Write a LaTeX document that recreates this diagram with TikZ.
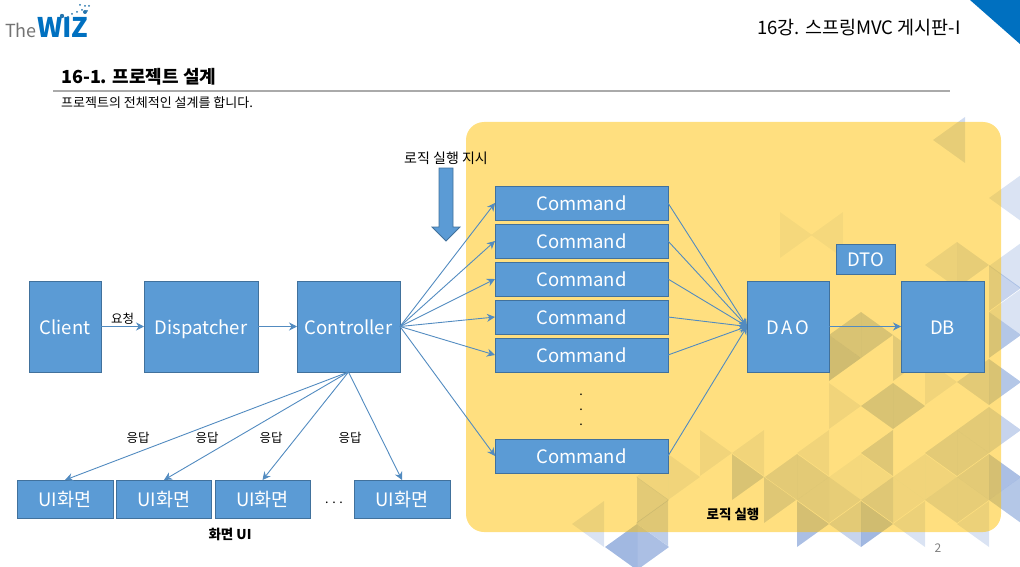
\documentclass[tikz,border=0pt]{standalone}
\usepackage{fontspec}
\setmainfont{Noto Sans CJK KR}
\usepackage{xcolor}
\usetikzlibrary{arrows.meta, positioning}
\definecolor{boxblue}{RGB}{91,155,213}
\definecolor{boxedge}{RGB}{65,113,156}
\definecolor{wizblue}{RGB}{0,112,192}
\definecolor{trianglue}{RGB}{68,114,196}
\definecolor{logicyellow}{RGB}{255,192,0}
\definecolor{rulegray}{RGB}{170,170,170}
\newcommand{\fsize}[1]{\fontsize{#1}{#1}\selectfont}

\begin{document}
\begin{tikzpicture}[
  x=1pt, y=-1pt,
  box/.style={draw=boxedge, line width=1pt, fill=boxblue, text=white, outer sep=0pt,
              inner sep=0pt, font=\fsize{18.5}, minimum height=91pt,
              text height=15pt, text depth=0pt},
  cmd/.style={box, minimum width=173pt, minimum height=34pt},
  uibox/.style={box, minimum width=96pt, minimum height=38pt},
  arrow/.style={-{Stealth[length=8pt,width=8pt]}, line width=0.9pt, boxblue!90!black},
  plain/.style={font=\fsize{12.5}, text=black, inner sep=0pt},
  strong/.style={font=\fsize{13.5}\bfseries, text=black, inner sep=0pt},
]

\useasboundingbox (0,0) rectangle (1020,567);

\foreach \bx/\my/\dir/\op in {965/140/-1/.25, 1021/198/-1/.2, 780/235/1/.1, 843/235/-1/.1,
    957/265/-1/.2, 957/265/1/.25, 1021/266/-1/.2, 989/288/1/.3, 1021/312/-1/.2, 989/335/1/.4,
    989/382/1/.4, 989/382/-1/.3, 989/430/1/.3, 989/477/1/.45, 1021/500/-1/.4,
    797/524/1/.45, 861/524/-1/.3, 861/524/1/.5, 925/524/-1/.2, 989/524/-1/.2,
    732/477/1/.4, 700/453/1/.15, 764/453/-1/.15, 797/477/-1/.3, 764/500/1/.35,
    829/453/-1/.15, 797/477/1/.3, 829/500/-1/.3, 829/500/1/.25, 861/477/1/.1, 861/477/-1/.1,
    893/453/-1/.35, 925/477/-1/.15, 893/500/1/.15, 893/500/-1/.35, 925/477/1/.15,
    957/453/-1/.3, 957/453/1/.3, 989/430/-1/.3, 989/477/-1/.3, 957/500/1/.25, 957/500/-1/.25,
    861/335/-1/.4, 861/335/1/.4, 829/358/1/.5, 893/358/1/.3, 893/406/-1/.4, 893/406/1/.4,
    829/406/1/.15, 925/382/1/.15,
    668/477/1/.15, 668/477/-1/.15, 637/500/1/.3, 668/523/-1/.35, 604/524/-1/.2,
    637/547/-1/.5, 637/547/1/.45}
  \fill[trianglue, opacity=\op] (\bx,\my-23) -- (\bx+32*\dir,\my) -- (\bx,\my+23) -- cycle;

\fill[logicyellow, opacity=.5, rounded corners=18pt] (466,122) rectangle (1001,532);
\fill[wizblue] (970,0) -- (1020,0) -- (1020,44) -- cycle;

\node[font=\fsize{18}, text=black!55, anchor=base west, inner sep=0pt] (the) at (5,38) {The};
\node[font=\fsize{27}\bfseries, text=wizblue, anchor=base west, inner sep=0pt] (wiz) at (37,38) {WIZ};
\foreach \sx/\sy/\sr in {62/16/2.2, 85/12/2, 80/5/1, 85/6/1, 89/6/1, 87/11/1, 82/10/1, 77/12/1, 72/14/1, 68/17/1}
  \fill[wizblue!70!gray] (\sx,\sy) circle (\sr);

\node[font=\fsize{18.5}, anchor=east, inner sep=0pt] (chapter) at (961,28) {16강. 스프링MVC 게시판-I};
\node[font=\fsize{18}\bfseries, anchor=west, inner sep=0pt] (title) at (61,77) {16-1. 프로젝트 설계};
\draw[rulegray, line width=1.2pt] (53,91) -- (950,91);
\node[font=\fsize{13}, anchor=west, inner sep=0pt] (subtitle) at (61,103) {프로젝트의 전체적인 설계를 합니다.};

\node[box, minimum width=72pt]  (client) at (65,326.5) {Client};
\node[box, minimum width=114pt, right=43pt of client] (dispatcher) {Dispatcher};
\node[box, minimum width=103pt, right=39pt of dispatcher] (controller) {Controller};

\node[cmd] (cmdA) at (581.5,203) {Command};
\node[cmd, below=4pt of cmdA] (cmdB) {Command};
\node[cmd, below=4pt of cmdB] (cmdC) {Command};
\node[cmd, below=4pt of cmdC] (cmdD) {Command};
\node[cmd, below=4pt of cmdD] (cmdE) {Command};
\node[cmd] (cmdF) at (581.5,456) {Command};

\node[box, minimum width=82pt] (dao) at (788,326.5) {D\kern2.5pt A\kern2.5pt O};
\node[box, minimum width=83pt] (db) at (942.5,326.5) {DB};
\node[box, minimum width=59pt, minimum height=30pt] (dto) at (865.5,259) {DTO};

\node[uibox] (uiA) at (65,499) {UI화면};
\node[uibox, right=3.5pt of uiA, minimum width=95pt] (uiB) {UI화면};
\node[uibox, right=3.5pt of uiB, minimum width=95pt] (uiC) {UI화면};
\node[uibox] (uiD) at (402,499) {UI화면};

\draw[arrow] (client) -- node[plain, above=2pt]{요청} (dispatcher);
\draw[arrow] (dispatcher) -- (controller);
\draw[arrow] (dao) -- (db);
\foreach \c in {cmdA,cmdB,cmdC,cmdD,cmdE,cmdF}{
  \draw[arrow] (controller.east) -- (\c.west);
  \draw[arrow] (\c.east) -- (dao.west);
}
\foreach \u in {uiA,uiB,uiC,uiD}
  \draw[arrow] (controller.south) -- (\u.north);

\node[plain] (respA) at (138,437.5) {응답};
\node[plain] (respB) at (207,437.5) {응답};
\node[plain] (respC) at (271,437.5) {응답};
\node[plain] (respD) at (350,437.5) {응답};
\node[plain] (more) at (334,503) {. . .};
\node[strong] (uilabel) at (230,534) {화면 UI};
\node[strong] (logiclabel) at (733,514) {로직 실행};
\node[plain, font=\fsize{14}] (order) at (446,158) {로직 실행 지시};
\node[plain] (dotA) at (581,394.5) {.};
\node[plain] (dotB) at (581,410) {.};
\node[plain] (dotC) at (581,425) {.};
\node[font=\fsize{12}, text=black!50, inner sep=0pt] (pagenum) at (938,548) {2};

\draw[boxedge, fill=boxblue, line width=.8pt] (439,168) -- (453,168) -- (453,227) -- (460,227)
  -- (446,241) -- (432,227) -- (439,227) -- cycle;

\end{tikzpicture}
\end{document}
